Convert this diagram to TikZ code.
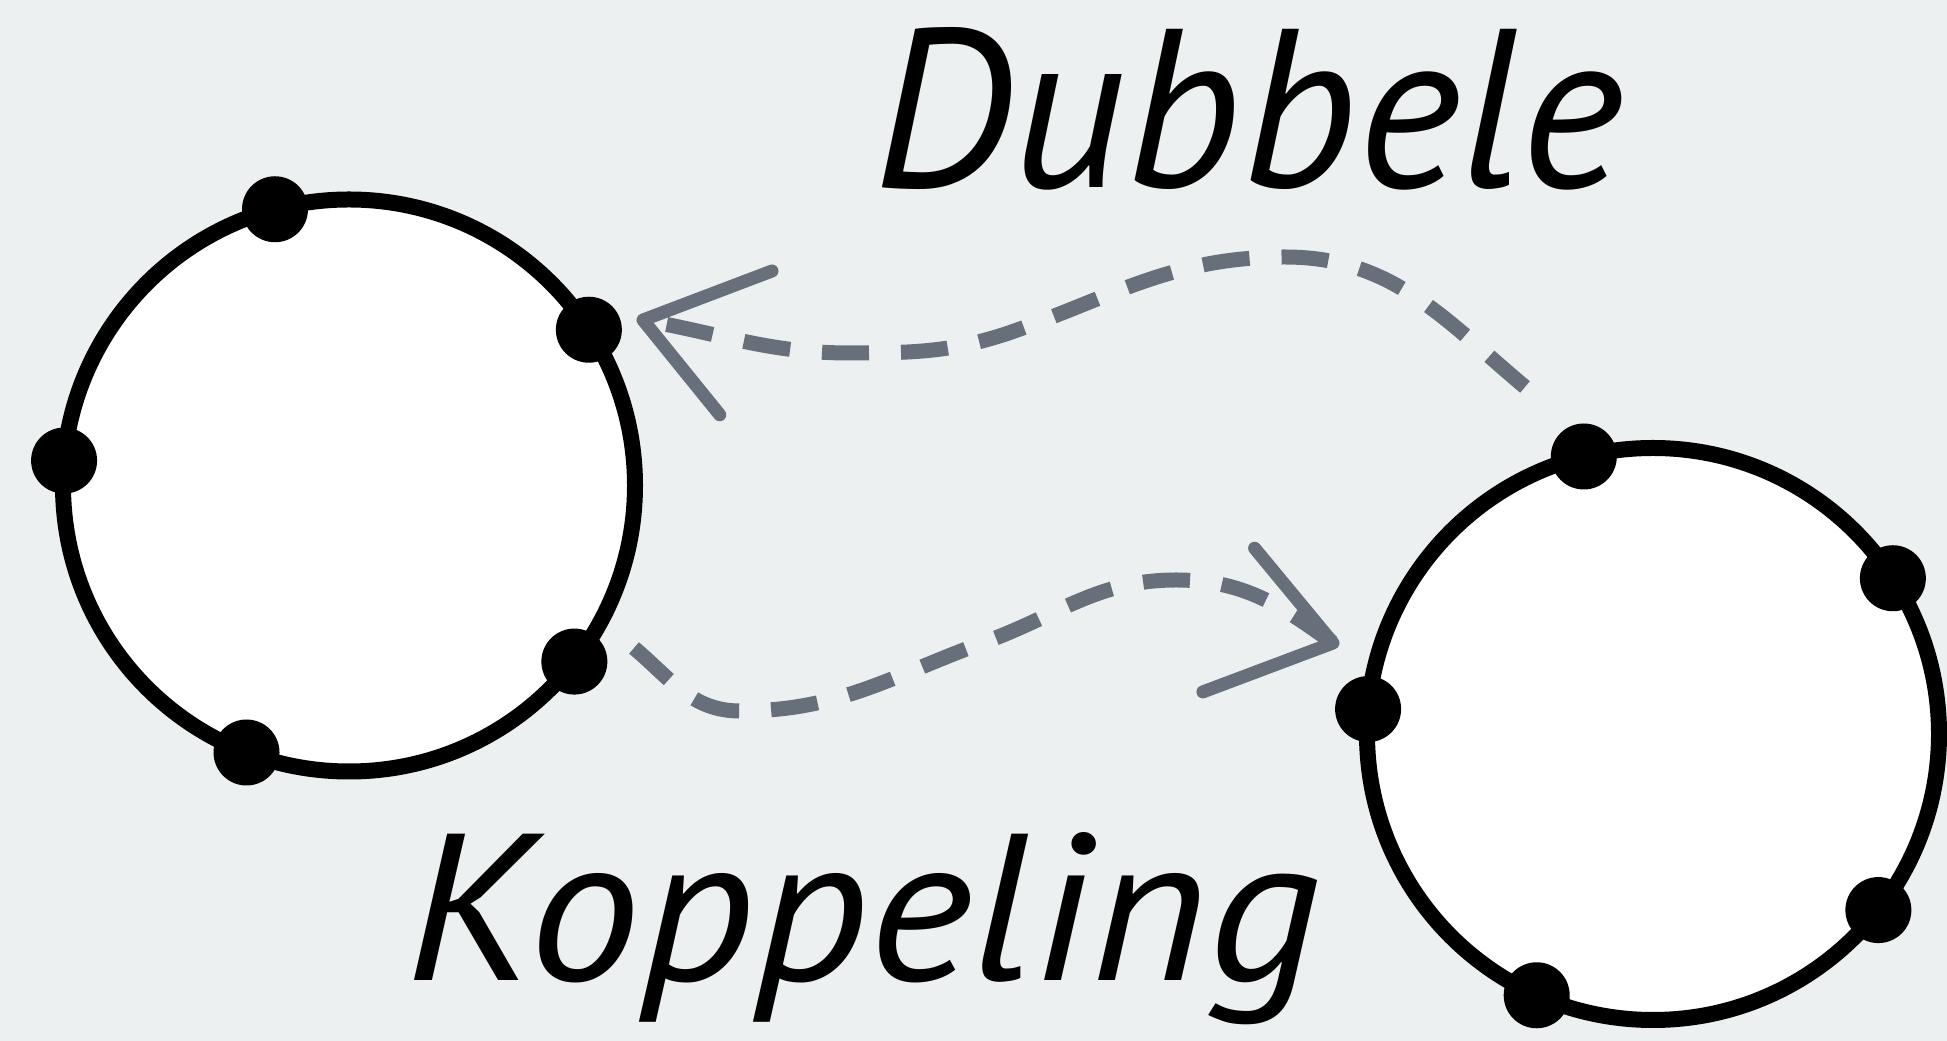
\documentclass[tikz,border=0pt]{standalone}
\usepackage{fontspec}
\setmainfont{PT Sans}
\usepackage{graphicx}
\usetikzlibrary{calc}
\definecolor{paper}{HTML}{ECF0F1}
\definecolor{linkgray}{HTML}{676F7A}

\begin{document}
\begin{tikzpicture}[x=1pt,y=1pt,
  ring/.style={circle, draw=black, fill=white, line width=16pt,
    minimum size=572pt, inner sep=0pt, outer sep=0pt},
  pin/.style={circle, fill=black, inner sep=0pt, minimum size=66pt},
  link/.style={draw=linkgray, line width=15pt, dash pattern=on 47pt off 32pt},
  barb/.style={draw=linkgray, line width=13pt, line cap=round, line join=round},
  word/.style={inner sep=0pt, font=\itshape}]
\useasboundingbox (0,0) rectangle (1947,1041);
\fill[paper] (0,0) rectangle (1947,1041);

% the two rings
\node[ring] (ringA) at (349,555.5) {};
\node[ring] (ringB) at (1653,307) {};

% pins on the left ring
\node[pin] (a1) at (ringA.105.4) {};
\node[pin] (a2) at (ringA.33.2) {};
\node[pin] (a3) at (ringA.175) {};
\node[pin] (a4) at (ringA.-38.6) {};
\node[pin] (a5) at (ringA.-111) {};

% pins on the right ring
\node[pin] (b1) at (ringB.104.6) {};
\node[pin] (b2) at (ringB.33) {};
\node[pin] (b3) at (ringB.175) {};
\node[pin] (b4) at (ringB.-38.3) {};
\node[pin] (b5) at (ringB.-114.7) {};

% upper link: right ring back to the left ring
\coordinate (dStart) at (1525,654);
\coordinate (dTop)   at (1285,784);
\coordinate (dMid)   at (1020,712);
\coordinate (dLow)   at (850,688);
\coordinate (dTip)   at (643,721);
\draw[link] (dStart) to[out=140,in=0] (dTop) to[out=180,in=20] (dMid)
  to[out=200,in=0] (dLow) to[out=180,in=-10] (dTip);
\draw[barb] ($(dTip)+(20.8:138)$) -- (dTip) -- ($(dTip)+(-51:122)$);

% lower link: left ring over to the right ring
\coordinate (kStart) at (634,393);
\coordinate (kLow)   at (740,330);
\coordinate (kMid)   at (985,399);
\coordinate (kTop)   at (1176,461);
\coordinate (kTip)   at (1333,398);
\draw[link] (kStart) to[out=-40,in=180] (kLow) to[out=0,in=200] (kMid)
  to[out=20,in=180] (kTop) to[out=0,in=144] (kTip);
\draw[barb] ($(kTip)+(129.6:123)$) -- (kTip) -- ($(kTip)+(200.6:139)$);

% labels
\node[word, anchor=base west] (dubbele) at (873,853)
  {\resizebox{750pt}{160pt}{Dubbele}};
\node[word, anchor=base west] (koppeling) at (405,60)
  {\resizebox{915pt}{148pt}{Koppeling}};
\end{tikzpicture}
\end{document}
